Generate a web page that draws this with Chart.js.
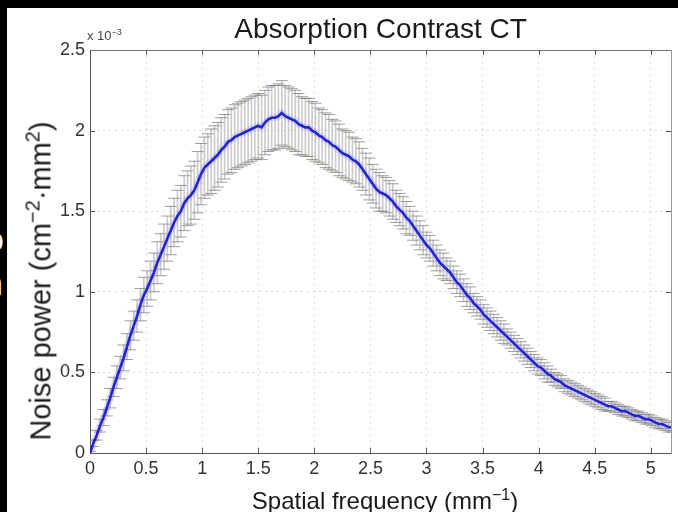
<!DOCTYPE html>
<html><head><meta charset="utf-8">
<script src="https://cdn.jsdelivr.net/npm/chart.js@4/dist/chart.umd.min.js"></script>
<style>
html,body{margin:0;padding:0;background:#000;width:678px;height:512px;overflow:hidden;position:relative;font-family:'Liberation Sans',Arial,sans-serif}
.frag{position:absolute;color:#fff;font-size:34px;line-height:1;font-family:'Liberation Sans',Arial,sans-serif;-webkit-font-smoothing:antialiased}
#panel{position:absolute;left:7px;top:8px;width:671px;height:504px;background:#fff;overflow:hidden}
#c{position:absolute;left:0;top:0}
#exp{position:absolute;left:87px;top:29px;font-size:13px;color:#444;line-height:1;white-space:nowrap}
#exp sup{font-size:9px;line-height:0}
#xlab{position:absolute;left:385px;top:489px;transform:translateX(-50%);font-size:24px;line-height:1;color:#1a1a1a;white-space:nowrap}
#xlab sup{font-size:16px;line-height:0}
#ylab{position:absolute;left:41px;top:281px;transform:translate(-50%,-50%) rotate(-90deg);font-size:29px;line-height:1;color:#1a1a1a;white-space:nowrap}
#ylab sup{font-size:20px;line-height:0}
</style></head>
<body>
<div class="frag" style="left:-15px;top:222px">o</div>
<div class="frag" style="left:-16px;top:266px">n</div>
<div id="panel"><canvas id="c" width="671" height="504"></canvas></div>
<div id="exp">x 10<sup>−3</sup></div>
<div id="xlab">Spatial frequency (mm<sup>−1</sup>)</div>
<div id="ylab">Noise power (cm<sup>−2</sup>·mm<sup>2</sup>)</div>
<script>
// Spatial frequency (mm^-1)
const freq = [
0,0.03,0.06,0.09,0.12,0.15,0.18,0.21,0.24,0.27,
0.30,0.33,0.36,0.39,0.42,0.45,0.48,0.51,0.54,0.57,
0.60,0.63,0.66,0.69,0.72,0.75,0.78,0.81,0.84,0.87,
0.90,0.93,0.96,0.99,1.02,1.05,1.08,1.11,1.14,1.17,
1.20,1.23,1.26,1.29,1.32,1.35,1.38,1.41,1.44,1.47,
1.50,1.53,1.56,1.59,1.62,1.65,1.68,1.71,1.74,1.77,
1.80,1.83,1.86,1.89,1.92,1.95,1.98,2.01,2.04,2.07,
2.10,2.13,2.16,2.19,2.22,2.25,2.28,2.31,2.34,2.37,
2.40,2.43,2.46,2.49,2.52,2.55,2.58,2.61,2.64,2.67,
2.70,2.73,2.76,2.79,2.82,2.85,2.88,2.91,2.94,2.97,
3.00,3.03,3.06,3.09,3.12,3.15,3.18,3.21,3.24,3.27,
3.30,3.33,3.36,3.39,3.42,3.45,3.48,3.51,3.54,3.57,
3.60,3.63,3.66,3.69,3.72,3.75,3.78,3.81,3.84,3.87,
3.90,3.93,3.96,3.99,4.02,4.05,4.08,4.11,4.14,4.17,
4.20,4.23,4.26,4.29,4.32,4.35,4.38,4.41,4.44,4.47,
4.50,4.53,4.56,4.59,4.62,4.65,4.68,4.71,4.74,4.77,
4.80,4.83,4.86,4.89,4.92,4.95,4.98,5.01,5.04,5.07,
5.10,5.13,5.16,5.19];
// Mean noise power (x 10^-3 cm^-2 mm^2)
const noisePower = [
0.00,0.06,0.11,0.17,0.22,0.28,0.34,0.41,0.47,0.53,
0.59,0.66,0.73,0.79,0.85,0.92,0.98,1.02,1.07,1.12,
1.18,1.23,1.28,1.33,1.38,1.43,1.47,1.50,1.55,1.58,
1.60,1.63,1.68,1.73,1.77,1.79,1.81,1.83,1.85,1.88,
1.90,1.93,1.94,1.96,1.97,1.98,1.99,2.00,2.01,2.02,
2.03,2.02,2.05,2.07,2.08,2.08,2.09,2.11,2.09,2.08,
2.07,2.06,2.04,2.03,2.02,2.02,2.00,1.99,1.97,1.96,
1.94,1.93,1.91,1.90,1.88,1.86,1.85,1.84,1.82,1.81,
1.79,1.76,1.73,1.70,1.67,1.64,1.62,1.61,1.60,1.58,
1.56,1.53,1.51,1.49,1.46,1.44,1.41,1.38,1.35,1.32,
1.29,1.27,1.24,1.21,1.18,1.16,1.14,1.12,1.09,1.06,
1.04,1.01,0.98,0.96,0.93,0.91,0.89,0.86,0.84,0.82,
0.80,0.78,0.76,0.74,0.72,0.70,0.68,0.66,0.64,0.62,
0.60,0.58,0.56,0.54,0.53,0.51,0.49,0.48,0.46,0.45,
0.44,0.42,0.41,0.40,0.39,0.38,0.37,0.36,0.35,0.34,
0.33,0.32,0.31,0.30,0.29,0.29,0.28,0.27,0.26,0.26,
0.25,0.24,0.23,0.23,0.22,0.21,0.21,0.20,0.19,0.18,
0.18,0.17,0.16,0.16];
// Error bar half-height (x 10^-3)
const errorHalf = [
0.01,0.02,0.03,0.04,0.05,0.05,0.06,0.06,0.07,0.07,
0.08,0.08,0.09,0.09,0.10,0.10,0.11,0.11,0.12,0.12,
0.13,0.13,0.14,0.14,0.15,0.15,0.16,0.16,0.17,0.17,
0.18,0.18,0.19,0.19,0.19,0.19,0.20,0.20,0.20,0.20,
0.20,0.20,0.20,0.20,0.20,0.20,0.20,0.20,0.20,0.20,
0.20,0.20,0.20,0.20,0.20,0.20,0.20,0.20,0.19,0.19,
0.19,0.19,0.19,0.18,0.18,0.18,0.18,0.18,0.17,0.17,
0.17,0.17,0.16,0.16,0.16,0.15,0.15,0.15,0.14,0.14,
0.14,0.13,0.13,0.13,0.12,0.12,0.12,0.11,0.11,0.11,
0.11,0.10,0.10,0.10,0.10,0.09,0.09,0.09,0.09,0.09,
0.08,0.08,0.08,0.08,0.08,0.08,0.07,0.07,0.07,0.07,
0.07,0.07,0.07,0.07,0.06,0.06,0.06,0.06,0.06,0.06,
0.06,0.06,0.06,0.06,0.05,0.05,0.05,0.05,0.05,0.05,
0.05,0.05,0.05,0.05,0.05,0.05,0.05,0.04,0.04,0.04,
0.04,0.04,0.04,0.04,0.04,0.04,0.04,0.04,0.04,0.04,
0.04,0.04,0.04,0.04,0.03,0.03,0.03,0.03,0.03,0.03,
0.03,0.03,0.03,0.03,0.03,0.03,0.03,0.03,0.03,0.03,
0.03,0.03,0.03,0.03];
const xTickStep = 0.5, yTickStep = 0.5;
const xMax = 5.18, yMax = 2.5;
const chartTitle = 'Absorption Contrast CT';

const linePts = freq.map((f,i)=>({x:f,y:noisePower[i]}));
const upPts = freq.map((f,i)=>({x:f,y:noisePower[i]+errorHalf[i]}));
const loPts = freq.map((f,i)=>({x:f,y:noisePower[i]-errorHalf[i]}));
const barPts = freq.map((f,i)=>({x:f,y:[noisePower[i]-errorHalf[i],noisePower[i]+errorHalf[i]]}));

Chart.defaults.font.family = "'Liberation Sans', Arial, sans-serif";
const fmt = v => String(Number(Number(v).toFixed(2)));

const innerTicks = {
  id:'innerTicks',
  afterDatasetsDraw(chart){
    const {ctx, chartArea:{left,right,top,bottom}, scales:{x,y}} = chart;
    ctx.save();
    ctx.strokeStyle = '#555'; ctx.lineWidth = 1;
    ctx.beginPath();
    x.ticks.forEach(t=>{
      if (t.value <= 0) return;
      const px = Math.round(x.getPixelForValue(t.value))+0.5;
      ctx.moveTo(px,bottom); ctx.lineTo(px,bottom-5);
      ctx.moveTo(px,top); ctx.lineTo(px,top+5);
    });
    y.ticks.forEach(t=>{
      if (t.value <= 0 || t.value >= yMax) return;
      const py = Math.round(y.getPixelForValue(t.value))+0.5;
      ctx.moveTo(left,py); ctx.lineTo(left+5,py);
      ctx.moveTo(right,py); ctx.lineTo(right-5,py);
    });
    ctx.stroke();
    ctx.restore();
  }
};

new Chart(document.getElementById('c'), {
  type:'line',
  data:{datasets:[
    {type:'line', data:linePts, xAxisID:'x', yAxisID:'y', borderColor:'#2424cc', borderWidth:2.6, pointRadius:0, tension:0, order:0},
    {type:'line', data:linePts, xAxisID:'x', yAxisID:'y', borderColor:'rgba(100,100,255,0.18)', borderWidth:7, pointRadius:0, tension:0, order:1},
    {type:'scatter', data:upPts, xAxisID:'x', yAxisID:'y', pointStyle:'line', pointRadius:6, pointBorderColor:'rgba(120,120,110,0.7)', borderColor:'rgba(120,120,110,0.7)', pointBorderWidth:1, showLine:false, order:2},
    {type:'scatter', data:loPts, xAxisID:'x', yAxisID:'y', pointStyle:'line', pointRadius:6, pointBorderColor:'rgba(120,120,110,0.7)', borderColor:'rgba(120,120,110,0.7)', pointBorderWidth:1, showLine:false, order:2},
    {type:'bar', data:barPts, xAxisID:'x', yAxisID:'y', barThickness:1, backgroundColor:'rgba(140,140,140,0.45)', borderWidth:0, grouped:false, order:3}
  ]},
  options:{
    responsive:false, animation:false, devicePixelRatio:1,
    layout:{padding:0},
    plugins:{legend:{display:false}, tooltip:{enabled:false}},
    scales:{
      x:{type:'linear', position:'bottom', min:0, max:xMax, offset:false,
         ticks:{stepSize:xTickStep, includeBounds:false, autoSkip:false, maxRotation:0, padding:5, color:'#333', font:{size:18}, callback:fmt},
         grid:{color:'rgba(0,0,0,0.14)', drawTicks:false, offset:false},
         border:{display:true, color:'#555', width:1, dash:[2,4]},
         afterFit:s=>{s.height=59;}},
      x2:{type:'linear', position:'top', min:0, max:xMax,
         ticks:{display:false}, grid:{display:false, drawTicks:false},
         border:{display:true, color:'#777', width:1},
         title:{display:true, text:chartTitle, color:'#1a1a1a', font:{size:28}, padding:{top:5,bottom:0}},
         afterFit:s=>{s.height=42;}},
      y:{type:'linear', position:'left', min:0, max:yMax,
         ticks:{stepSize:yTickStep, padding:5, color:'#333', font:{size:18}, callback:fmt},
         grid:{color:'rgba(0,0,0,0.14)', drawTicks:false},
         border:{display:true, color:'#555', width:1, dash:[2,4]},
         afterFit:s=>{s.width=83;}},
      y2:{type:'linear', position:'right', min:0, max:yMax,
         ticks:{display:false}, grid:{display:false, drawTicks:false},
         border:{display:true, color:'#999', width:1},
         afterFit:s=>{s.width=4;}}
    }
  },
  plugins:[innerTicks]
});
</script>
</body></html>
